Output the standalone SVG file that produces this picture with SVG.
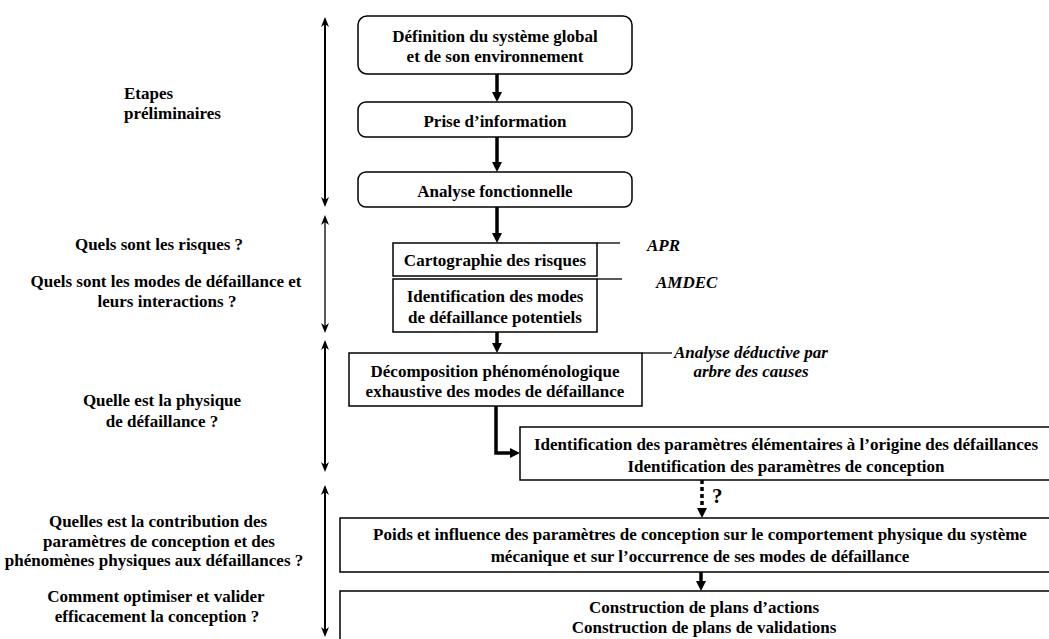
<svg xmlns="http://www.w3.org/2000/svg" width="1049" height="639" viewBox="0 0 1049 639">
<style>
  .box { fill: #ffffff; stroke: #000000; stroke-width: 1.5; }
  .t { font-family: "Liberation Serif", "Times New Roman", serif; font-weight: bold; font-size: 17px; fill: #000000; text-anchor: middle; }
  .lbl { font-family: "Liberation Serif", "Times New Roman", serif; font-weight: bold; font-size: 17px; fill: #000000; text-anchor: middle; }
  .it { font-family: "Liberation Serif", "Times New Roman", serif; font-weight: bold; font-style: italic; font-size: 17px; fill: #000000; }
  .q { font-family: "Liberation Serif", "Times New Roman", serif; font-weight: bold; font-size: 21px; fill: #000000; }
  .flow { stroke: #000000; stroke-width: 3.5; fill: none; }
  .dash { stroke: #000000; stroke-width: 3.5; fill: none; stroke-dasharray: 4 3; }
  .span { stroke: #000000; stroke-width: 2; fill: none; }
  .thin { stroke: #000000; stroke-width: 1.3; fill: none; }
  .tick { stroke: #000000; stroke-width: 1.3; fill: none; }
</style>
<defs>
  <marker id="ah" viewBox="0 0 10 10" refX="2" refY="5" markerWidth="10" markerHeight="10" markerUnits="userSpaceOnUse" orient="auto">
    <path d="M0,0 L10,5 L0,10 z" fill="#000000"/>
  </marker>
  <marker id="sa" viewBox="0 0 10 8" refX="8" refY="4" markerWidth="10" markerHeight="8" markerUnits="userSpaceOnUse" orient="auto-start-reverse">
    <path d="M0,0 L10,4 L0,8 L3,4 z" fill="#000000"/>
  </marker>
</defs>
<rect width="1049" height="639" fill="#ffffff"/>

<g id="labels-left">
  <text class="lbl" x="124" y="99" style="text-anchor:start">Etapes</text>
  <text class="lbl" x="124" y="119" style="text-anchor:start">préliminaires</text>
  <text class="lbl" x="159" y="250">Quels sont les risques ?</text>
  <text class="lbl" x="166" y="287">Quels sont les modes de défaillance et</text>
  <text class="lbl" x="167" y="307">leurs interactions ?</text>
  <text class="lbl" x="162" y="406">Quelle est la physique</text>
  <text class="lbl" x="162" y="427">de défaillance ?</text>
  <text class="lbl" x="158" y="527">Quelles est la contribution des</text>
  <text class="lbl" x="159" y="547">paramètres de conception et des</text>
  <text class="lbl" x="154" y="566">phénomènes physiques aux défaillances ?</text>
  <text class="lbl" x="156" y="602">Comment optimiser et valider</text>
  <text class="lbl" x="157" y="622">efficacement la conception ?</text>
</g>

<g id="n1"><rect class="box" x="358" y="16" width="274" height="58" rx="9"/>
  <text class="t" x="495" y="42">Définition du système global</text>
  <text class="t" x="495" y="62">et de son environnement</text></g>
<g id="n2"><rect class="box" x="358" y="102" width="274" height="35" rx="8"/>
  <text class="t" x="495" y="127">Prise d’information</text></g>
<g id="n3"><rect class="box" x="358" y="172" width="274" height="35" rx="8"/>
  <text class="t" x="495" y="197">Analyse fonctionnelle</text></g>
<g id="n4"><rect class="box" x="393" y="243" width="204" height="33"/>
  <text class="t" x="495" y="266">Cartographie des risques</text></g>
<g id="n5"><rect class="box" x="393" y="279" width="204" height="53"/>
  <text class="t" x="495" y="302">Identification des modes</text>
  <text class="t" x="495" y="323">de défaillance potentiels</text></g>
<g id="n6"><rect class="box" x="349" y="353" width="293" height="53"/>
  <text class="t" x="495" y="377">Décomposition phénoménologique</text>
  <text class="t" x="495" y="397">exhaustive des modes de défaillance</text></g>
<g id="n7"><rect class="box" x="520" y="427" width="545" height="53"/>
  <text class="t" x="786" y="450">Identification des paramètres élémentaires à l’origine des défaillances</text>
  <text class="t" x="786" y="472">Identification des paramètres de conception</text></g>
<g id="n8"><rect class="box" x="340" y="518" width="725" height="54"/>
  <text class="t" x="700" y="540">Poids et influence des paramètres de conception sur le comportement physique du système</text>
  <text class="t" x="700" y="562">mécanique et sur l’occurrence de ses modes de défaillance</text></g>
<g id="n9"><rect class="box" x="340" y="591" width="725" height="60"/>
  <text class="t" x="704" y="613">Construction de plans d’actions</text>
  <text class="t" x="704" y="633">Construction de plans de validations</text></g>

<g id="annotations">
  <line class="tick" x1="597" y1="243" x2="620" y2="243"/>
  <line class="tick" x1="597" y1="279" x2="622" y2="279" stroke="#555555"/>
  <line class="tick" x1="642" y1="353" x2="672" y2="353"/>
  <text class="it" x="647" y="251">APR</text>
  <text class="it" x="656" y="288">AMDEC</text>
  <text class="it" x="751" y="358" style="text-anchor:middle">Analyse déductive par</text>
  <text class="it" x="751" y="377" style="text-anchor:middle">arbre des causes</text>
  <text class="q" x="712" y="503">?</text>
</g>

<g id="connectors">
  <line class="flow" x1="497" y1="74" x2="497" y2="94" marker-end="url(#ah)"/>
  <line class="flow" x1="497" y1="137" x2="497" y2="164" marker-end="url(#ah)"/>
  <line class="flow" x1="497" y1="207" x2="497" y2="235" marker-end="url(#ah)"/>
  <line class="flow" x1="497" y1="332" x2="497" y2="345" marker-end="url(#ah)"/>
  <polyline class="flow" points="496,406 496,453 512,453" marker-end="url(#ah)"/>
  <line class="dash" x1="702" y1="480" x2="702" y2="510" marker-end="url(#ah)"/>
  <line class="flow" x1="701" y1="572" x2="701" y2="583" marker-end="url(#ah)"/>
  <line class="span" x1="325" y1="19" x2="325" y2="205" marker-start="url(#sa)" marker-end="url(#sa)"/>
  <line class="thin" x1="325" y1="217" x2="325" y2="331" marker-start="url(#sa)" marker-end="url(#sa)"/>
  <line class="span" x1="325" y1="342" x2="325" y2="470" marker-start="url(#sa)" marker-end="url(#sa)"/>
  <line class="span" x1="325" y1="487" x2="325" y2="635" marker-start="url(#sa)" marker-end="url(#sa)"/>
</g>
</svg>
